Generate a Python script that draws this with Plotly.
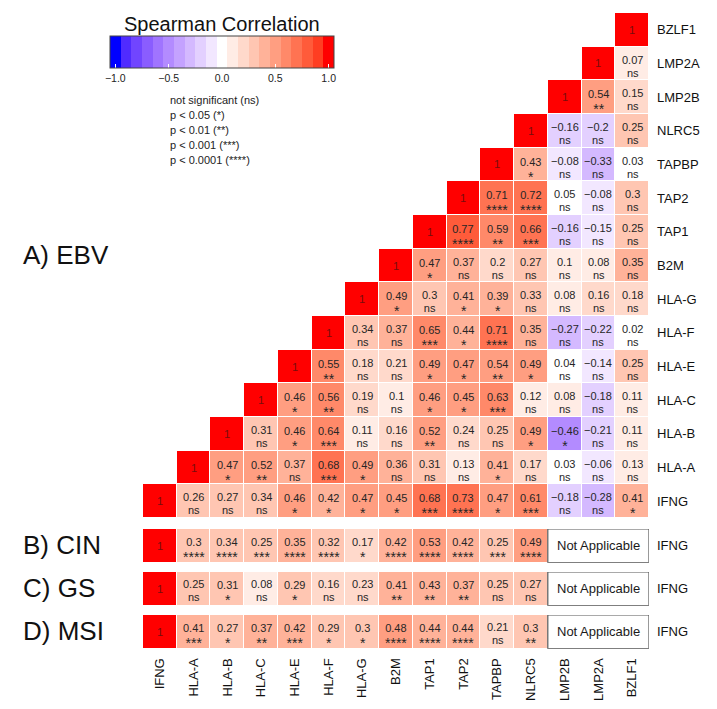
import plotly.graph_objects as go

# ---------------- data ----------------
genes = ["IFNG", "HLA-A", "HLA-B", "HLA-C", "HLA-E", "HLA-F", "HLA-G", "B2M",
         "TAP1", "TAP2", "TAPBP", "NLRC5", "LMP2B", "LMP2A", "BZLF1"]
sub_genes = genes[:12]

# EBV: row i holds correlations of genes[i] with genes[i:], (lower triangle as drawn)
ebv_corr = [
    [1, 0.26, 0.27, 0.34, 0.46, 0.42, 0.47, 0.45, 0.68, 0.73, 0.47, 0.61, -0.18, -0.28, 0.41],
    [1, 0.47, 0.52, 0.37, 0.68, 0.49, 0.36, 0.31, 0.13, 0.41, 0.17, 0.03, -0.06, 0.13],
    [1, 0.31, 0.46, 0.64, 0.11, 0.16, 0.52, 0.24, 0.25, 0.49, -0.46, -0.21, 0.11],
    [1, 0.46, 0.56, 0.19, 0.1, 0.46, 0.45, 0.63, 0.12, 0.08, -0.18, 0.11],
    [1, 0.55, 0.18, 0.21, 0.49, 0.47, 0.54, 0.49, 0.04, -0.14, 0.25],
    [1, 0.34, 0.37, 0.65, 0.44, 0.71, 0.35, -0.27, -0.22, 0.02],
    [1, 0.49, 0.3, 0.41, 0.39, 0.33, 0.08, 0.16, 0.18],
    [1, 0.47, 0.37, 0.2, 0.27, 0.1, 0.08, 0.35],
    [1, 0.77, 0.59, 0.66, -0.16, -0.15, 0.25],
    [1, 0.71, 0.72, 0.05, -0.08, 0.3],
    [1, 0.43, -0.08, -0.33, 0.03],
    [1, -0.16, -0.2, 0.25],
    [1, 0.54, 0.15],
    [1, 0.07],
    [1],
]
ebv_sig = [
    ["", "ns", "ns", "ns", "*", "*", "*", "*", "***", "****", "*", "***", "ns", "ns", "*"],
    ["", "*", "**", "ns", "***", "*", "ns", "ns", "ns", "*", "ns", "ns", "ns", "ns"],
    ["", "ns", "*", "***", "ns", "ns", "**", "ns", "ns", "*", "*", "ns", "ns"],
    ["", "*", "**", "ns", "ns", "*", "*", "***", "ns", "ns", "ns", "ns"],
    ["", "**", "ns", "ns", "*", "*", "**", "*", "ns", "ns", "ns"],
    ["", "ns", "ns", "***", "*", "****", "ns", "ns", "ns", "ns"],
    ["", "*", "ns", "*", "*", "ns", "ns", "ns", "ns"],
    ["", "*", "ns", "ns", "ns", "ns", "ns", "ns"],
    ["", "****", "**", "***", "ns", "ns", "ns"],
    ["", "****", "****", "ns", "ns", "ns"],
    ["", "*", "ns", "ns", "ns"],
    ["", "ns", "ns", "ns"],
    ["", "**", "ns"],
    ["", "ns"],
    [""],
]

cin_corr = [1, 0.3, 0.34, 0.25, 0.35, 0.32, 0.17, 0.42, 0.53, 0.42, 0.25, 0.49]
cin_sig = ["", "****", "****", "***", "****", "****", "*", "****", "****", "****", "***", "****"]
gs_corr = [1, 0.25, 0.31, 0.08, 0.29, 0.16, 0.23, 0.41, 0.43, 0.37, 0.25, 0.27]
gs_sig = ["", "ns", "*", "ns", "*", "ns", "ns", "**", "**", "**", "ns", "ns"]
msi_corr = [1, 0.41, 0.27, 0.37, 0.42, 0.29, 0.3, 0.48, 0.44, 0.44, 0.21, 0.3]
msi_sig = ["", "***", "*", "**", "***", "*", "*", "****", "****", "****", "ns", "**"]

panel_names = ["A) EBV", "B) CIN", "C) GS", "D) MSI"]
legend_lines = ["not significant (ns)", "p < 0.05 (*)", "p < 0.01 (**)",
                "p < 0.001 (***)", "p < 0.0001 (****)"]
cbar_ticks = [-1.0, -0.5, 0.0, 0.5, 1.0]

# ---------------- colour palette (blue-white-red, Lab interpolation) ----------------
def _lin(c):
    c = c / 255.0
    return c / 12.92 if c <= 0.04045 else ((c + 0.055) / 1.055) ** 2.4

def _gam(c):
    c = 12.92 * c if c <= 0.0031308 else 1.055 * c ** (1 / 2.4) - 0.055
    return max(0, min(255, round(c * 255)))

XN, YN, ZN = 0.95047, 1.0, 1.08883

def rgb2lab(rgb):
    r, g, b = [_lin(v) for v in rgb]
    X = 0.4124 * r + 0.3576 * g + 0.1805 * b
    Y = 0.2126 * r + 0.7152 * g + 0.0722 * b
    Z = 0.0193 * r + 0.1192 * g + 0.9505 * b
    def f(t):
        return t ** (1 / 3) if t > 0.008856 else 7.787 * t + 16 / 116
    fx, fy, fz = f(X / XN), f(Y / YN), f(Z / ZN)
    return (116 * fy - 16, 500 * (fx - fy), 200 * (fy - fz))

def lab2rgb(lab):
    L, a, b = lab
    fy = (L + 16) / 116
    fx = fy + a / 500
    fz = fy - b / 200
    def finv(t):
        return t ** 3 if t ** 3 > 0.008856 else (t - 16 / 116) / 7.787
    X, Y, Z = XN * finv(fx), YN * finv(fy), ZN * finv(fz)
    r = 3.2406 * X - 1.5372 * Y - 0.4986 * Z
    g = -0.9689 * X + 1.8758 * Y + 0.0415 * Z
    bb = 0.0557 * X - 0.2040 * Y + 1.0570 * Z
    return tuple(_gam(max(0.0, v)) for v in (r, g, bb))

LAB_B, LAB_W, LAB_R = rgb2lab((0, 0, 255)), rgb2lab((255, 255, 255)), rgb2lab((255, 0, 0))

def pal(v):
    end = LAB_R if v >= 0 else LAB_B
    t = abs(v)
    lab = tuple(LAB_W[i] + (end[i] - LAB_W[i]) * t for i in range(3))
    r, g, b = lab2rgb(lab)
    return f"rgb({r},{g},{b})"

nb = 21
levels = [round(-1 + 0.1 * k, 1) for k in range(nb)]
colorscale = []
for k, lv in enumerate(levels):
    c = pal(lv)
    colorscale.append([k / nb, c])
    colorscale.append([(k + 1) / nb, c])

# ---------------- geometry ----------------
W, H = 717, 709
def py(px):
    return 1 - px / H

x_dom = [143 / W, 649 / W]
dom_ebv = [py(518), py(13)]
dom_cin = [py(562.7), py(529)]
dom_gs = [py(605.7), py(572)]
dom_msi = [py(648.7), py(615)]

FONT = "Liberation Sans, Arial, Helvetica, sans-serif"
TXT = "#262626"
ONE = "#7a0c0c"
VS = 11        # value font size
NS = 11        # "ns" font size
SS = 14        # star font size
ASC, DESC = 0.905, 0.212

fig = go.Figure()

# EBV matrix
n = len(genes)
z = [[None] * n for _ in range(n)]
for i, row in enumerate(ebv_corr):
    for k, v in enumerate(row):
        z[i][i + k] = v
fig.add_trace(go.Heatmap(z=z, x=genes, y=genes, coloraxis="coloraxis", xgap=1, ygap=1,
                         hoverongaps=False, xaxis="x", yaxis="y"))

subs = [(cin_corr, cin_sig, "y2"), (gs_corr, gs_sig, "y3"), (msi_corr, msi_sig, "y4")]
for corr, sig, ya in subs:
    fig.add_trace(go.Heatmap(z=[corr], x=sub_genes, y=["IFNG"], coloraxis="coloraxis",
                             xgap=1, ygap=1, xaxis="x", yaxis=ya))

def fmt(v):
    s = f"{v:g}"
    return s.replace("-", "\u2212")

ann = []
def cell_text(xi, yi, yref, v, s, mid):
    """mid: px below the cell centre of the midpoint between the two text lines."""
    if not s:
        ann.append(dict(x=xi, y=yi, xref="x", yref=yref, text=fmt(v), showarrow=False,
                        xanchor="center", yanchor="middle",
                        font=dict(family=FONT, size=VS, color=ONE if v == 1 else TXT)))
        return
    star = s.startswith("*")
    sz = SS if star else NS
    ink = 0.575 * sz if star else 0.26 * sz      # ink centre above baseline
    spacing = DESC * VS + ASC * sz + 0.5         # baseline distance, no box overlap
    dist = spacing + 0.358 * VS - ink            # visual centre distance
    voff = mid - dist / 2
    b1 = voff + 0.358 * VS
    b2 = b1 + spacing
    top = b1 - ASC * VS
    bottom = b2 + DESC * sz
    centre = (top + bottom) / 2
    txt = (f"<span style='font-size:{VS}px'>{fmt(v)}</span><br>"
           f"<span style='font-size:{sz}px'>{s}</span>")
    ann.append(dict(x=xi, y=yi, xref="x", yref=yref, text=txt, showarrow=False,
                    xanchor="center", yanchor="middle", yshift=-centre,
                    font=dict(family=FONT, size=spacing / 1.3, color=TXT)))

for i, row in enumerate(ebv_corr):
    for k, v in enumerate(row):
        cell_text(i + k, i, "y", v, ebv_sig[i][k], 3.2)

for corr, sig, ya in subs:
    for j, v in enumerate(corr):
        cell_text(j, 0, ya, v, sig[j], 1.8)

shapes = []
for _, _, ya in subs:
    shapes.append(dict(type="rect", xref="x", yref=ya, x0=11.5, x1=14.5, y0=-0.5, y1=0.5,
                       line=dict(color="#555555", width=1.2), fillcolor="white"))
    ann.append(dict(x=13, y=0, xref="x", yref=ya, text="Not Applicable", showarrow=False,
                    xanchor="center", yanchor="middle",
                    font=dict(family=FONT, size=13, color="#1a1a1a")))

# panel labels
ann.append(dict(x=21 / W, y=py(255), xref="paper", yref="paper", xanchor="left",
                yanchor="middle", text=panel_names[0], showarrow=False,
                font=dict(family=FONT, size=26, color="#111")))
for name, (_, _, ya) in zip(panel_names[1:], subs):
    ann.append(dict(x=21 / W, y=0, xref="paper", yref=ya, xanchor="left", yanchor="middle",
                    text=name, showarrow=False, yshift=1,
                    font=dict(family=FONT, size=26, color="#111")))

# colour bar title and significance legend
ann.append(dict(x=222 / W, y=py(24), xref="paper", yref="paper", text="Spearman Correlation",
                xanchor="center", yanchor="middle",
                showarrow=False, font=dict(family=FONT, size=20, color="#111")))
for k, line in enumerate(legend_lines):
    ann.append(dict(x=168 / W, y=py(100 + 15 * k), xref="paper", yref="paper",
                    xanchor="left", yanchor="middle", text=line, showarrow=False,
                    font=dict(family=FONT, size=11, color="#222")))

axis_common = dict(showgrid=False, zeroline=False, showline=False, ticks="")
layout = dict(
    width=W, height=H, autosize=False,
    margin=dict(l=0, r=0, t=0, b=0),
    paper_bgcolor="white", plot_bgcolor="rgba(0,0,0,0)",
    font=dict(family=FONT, color="#111"),
    coloraxis=dict(
        colorscale=colorscale, cmin=-1.05, cmax=1.05,
        colorbar=dict(orientation="h", x=222 / W, xanchor="center", y=py(36), yanchor="top",
                      lenmode="pixels", len=224, thickness=32, xpad=0, ypad=0,
                      outlinecolor="#444", outlinewidth=1,
                      tickvals=cbar_ticks, tickformat=".1f", ticks="inside", ticklen=4,
                      tickcolor="white", tickfont=dict(family=FONT, size=10.5, color="#222")),
    ),
    xaxis=dict(domain=x_dom, anchor="y4", range=[-0.5, 14.5], type="category",
               categoryorder="array", categoryarray=genes, tickangle=-90,
               ticklabelstandoff=6, tickfont=dict(family=FONT, size=13, color="#111"),
               **axis_common),
    yaxis=dict(domain=dom_ebv, anchor="x", side="right", range=[-0.5, 14.5], type="category",
               categoryorder="array", categoryarray=genes, ticklabelstandoff=7,
               tickfont=dict(family=FONT, size=13, color="#111"), **axis_common),
    shapes=shapes,
    annotations=ann,
)
for name, dom in (("yaxis2", dom_cin), ("yaxis3", dom_gs), ("yaxis4", dom_msi)):
    layout[name] = dict(domain=dom, anchor="x", side="right", range=[-0.5, 0.5],
                        type="category", categoryarray=["IFNG"], ticklabelstandoff=7,
                        tickfont=dict(family=FONT, size=13, color="#111"), **axis_common)

fig.update_layout(**layout)
fig.write_html("out.html", config={"displayModeBar": False},
               post_script="document.body.style.margin='0px';")
